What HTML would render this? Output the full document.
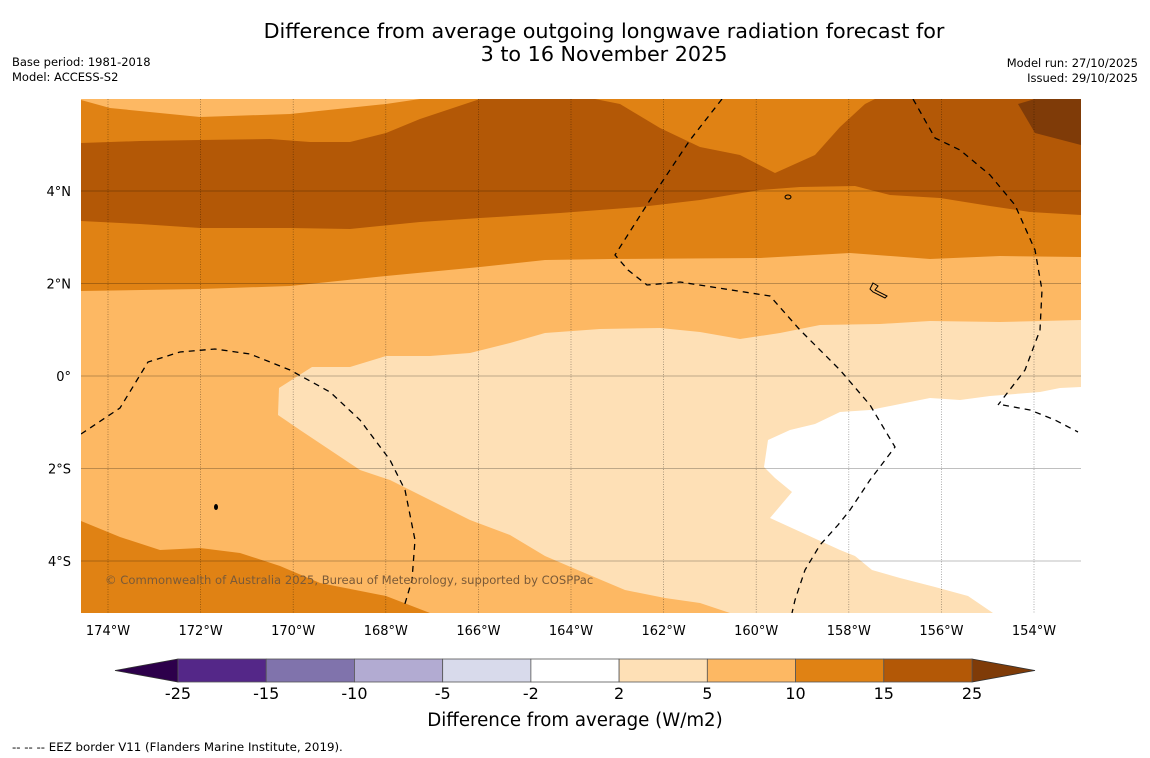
<!DOCTYPE html>
<html><head><meta charset="utf-8">
<style>
body{margin:0;background:#fff;width:1150px;height:758px;overflow:hidden;font-family:"DejaVu Sans","Liberation Sans",sans-serif;}
svg{position:absolute;left:0;top:0}
</style></head>
<body>
<svg id="fig" width="1150" height="758" viewBox="0 0 1150 758">
<rect width="1150" height="758" fill="#fff"/>
<text x="604" y="38" font-size="20.7" text-anchor="middle" fill="#000">Difference from average outgoing longwave radiation forecast for</text>
<text x="604" y="61" font-size="20.7" text-anchor="middle" fill="#000">3 to 16 November 2025</text>
<text x="12" y="66" font-size="11.5">Base period: 1981-2018</text>
<text x="12" y="81" font-size="11.5">Model: ACCESS-S2</text>
<text x="1138" y="67" font-size="11.5" text-anchor="end">Model run: 27/10/2025</text>
<text x="1138" y="82" font-size="11.5" text-anchor="end">Issued: 29/10/2025</text>

<defs><clipPath id="mc"><rect x="81" y="99" width="1000" height="514"/></clipPath></defs>
<g clip-path="url(#mc)">
<rect x="81" y="99" width="1000" height="514" fill="#fdb863"/>
<polygon fill="#e08214" points="81,100 110,108 200,117 290,114 386,104 420,99 1081,99 1081,257 1000,256 930,259 850,253 760,258 610,259 545,260 480,267 386,276 290,286 200,289 81,291"/>
<polygon fill="#b35806" points="81,143 140,141 200,140 270,139 310,142 350,142 386,133 420,119 480,99 595,99 620,104 660,128 700,147 740,155 775,173 815,155 840,127 865,104 875,99 1081,99 1081,215 1030,212 990,206 940,198 890,195 855,186 800,187 760,190 700,200 640,207 560,213 480,218 420,222 350,229 290,228 200,228 140,224 81,221"/>
<polygon fill="#7f3b08" points="1018,104 1035,99 1081,99 1081,145 1035,133"/>
<polygon fill="#e08214" points="81,521 120,537 160,550 200,548 240,553 280,566 320,583 386,596 430,613 81,613"/>
<polygon fill="#fee0b6" points="1081,320 1000,322 930,321 880,324 820,325 780,333 740,339 700,332 660,328 600,329 545,333 510,343 470,353 430,356 386,356 350,367 312,367 279,388 278,415 300,430 330,450 360,470 390,480 430,500 470,520 510,535 545,556 580,571 625,590 665,598 700,603 730,613 1081,613"/>
<polygon fill="#ffffff" points="1081,387 1060,388 1040,392 990,396 960,400 930,398 900,404 870,410 840,412 815,424 790,430 768,440 764,467 775,478 792,492 770,518 840,550 855,556 872,570 900,578 935,587 968,596 993,613 1081,613"/>
<g id="grid"></g>
<g fill="none" stroke="#000" stroke-width="1.3" stroke-dasharray="6,5">
<polyline points="81,434 120,408 148,362 180,352 215,349 250,354 290,370 330,392 360,420 390,460 405,490 415,540 412,580 404,607"/>
<polyline points="722,99 690,140 650,200 615,255 628,270 647,285 680,282 770,296 800,330 840,370 870,405 895,447 870,480 850,510 838,525 820,545 805,570 795,600 792,613"/>
<polyline points="913,99 935,138 960,150 990,175 1015,205 1035,250 1042,290 1040,330 1025,370 998,405"/>
<polyline points="1003,405 1030,410 1055,420 1078,432"/>
</g>
<ellipse cx="788" cy="197" rx="3" ry="2" fill="none" stroke="#000"/>
<path d="M873,283 l5,3 -3,4 12,6 -2,2 -12,-6 -3,-3z" fill="none" stroke="#000"/>
<ellipse cx="216" cy="507" rx="2" ry="3" fill="#000"/>
<text x="105" y="584" font-size="11.6" fill="#7a5a38">© Commonwealth of Australia 2025, Bureau of Meteorology, supported by COSPPac</text>
</g>
<g id="axes"></g>
<g id="cbar"></g>
<text x="575" y="726" font-size="18.2" text-anchor="middle">Difference from average (W/m2)</text>
<text x="12" y="751" font-size="11.8">--  --  -- EEZ border V11 (Flanders Marine Institute, 2019).</text>
</svg>
<script>
const lonTicks=[174,172,170,168,166,164,162,160,158,156,154];
const latTicks=[4,2,0,-2,-4];
const cbLevels=["-25","-15","-10","-5","-2","2","5","10","15","25"];
const cbColors=["#542788","#8073ac","#b2abd2","#d8daeb","#ffffff","#fee0b6","#fdb863","#e08214","#b35806"];
const cbUnder="#2d004b", cbOver="#7f3b08";
const NS="http://www.w3.org/2000/svg";
function X(lonW){return 108+(174-lonW)*46.3;}
function Y(lat){return 376-lat*46.25;}
function mk(t,a,p){const e=document.createElementNS(NS,t);for(const k in a)e.setAttribute(k,a[k]);p.appendChild(e);return e;}
const grid=document.getElementById('grid'),axes=document.getElementById('axes'),cb=document.getElementById('cbar');
lonTicks.forEach(l=>{const x=X(l);
 const g=mk('line',{x1:x,x2:x,y1:99,y2:613,stroke:'rgba(0,0,0,0.45)','stroke-width':0.7,'stroke-dasharray':'1,1.5'},grid);
 
 
 const t=mk('text',{x:x,y:635,'font-size':13,'text-anchor':'middle'},axes);t.textContent=l+'°W';
 
 });
latTicks.forEach(l=>{const y=Y(l);
 const g=mk('line',{x1:81,x2:1081,y1:y,y2:y,stroke:'rgba(0,0,0,0.25)','stroke-width':1},grid);
 
 
 const t=mk('text',{x:71,y:y+5,'font-size':13,'text-anchor':'end'},axes);
 t.textContent=l===0?'0°':Math.abs(l)+'°'+(l>0?'N':'S');
 
 });
const x0=178,x1=972,y0=659,h=23,w=(x1-x0)/cbColors.length;
const lt=mk('polygon',{points:`${x0},${y0} 115,${y0+h/2} ${x0},${y0+h}`,fill:cbUnder,stroke:'#333','stroke-width':0.8},cb);


const rt=mk('polygon',{points:`${x1},${y0} 1035,${y0+h/2} ${x1},${y0+h}`,fill:cbOver,stroke:'#333','stroke-width':0.8},cb);


cbColors.forEach((c,i)=>{const r=mk('rect',{x:x0+i*w,y:y0,width:w,height:h,fill:c,stroke:'#555','stroke-width':0.8},cb);
 
 });
cbLevels.forEach((s,i)=>{const t=mk('text',{x:x0+i*w,y:699,'font-size':16,'text-anchor':'middle'},cb);t.textContent=s;
 
 });
</script>
</body></html>
